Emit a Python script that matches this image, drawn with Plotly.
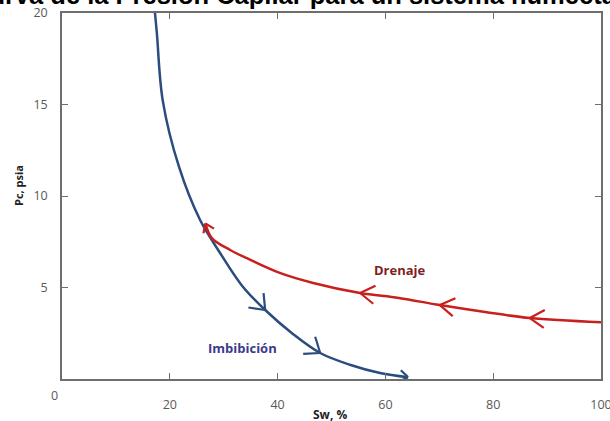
import numpy as np
import plotly.graph_objects as go

# Imbibition curve (Sw %, Pc psia)
sw_imb = [17.25, 17.6, 18.7, 21.7, 25.6, 29.3, 33.4, 37.7, 42.9, 47.9, 53.4, 59.0, 64.2]
pc_imb = [20.0, 18.9, 15.2, 11.6, 8.7, 6.9, 5.1, 3.77, 2.45, 1.42, 0.78, 0.33, 0.1]
imb_arrow_idx = [7, 9]          # direction chevrons along the curve
imb_end_idx = 12                # arrow head at the end

# Drainage curve (Sw %, Pc psia)
sw_dre = [26.6, 27.8, 31.2, 34.3, 40.4, 46.6, 55.3, 62.5, 70.1, 78.5, 86.8, 100.0]
pc_dre = [8.5, 7.7, 7.05, 6.6, 5.8, 5.25, 4.7, 4.43, 4.04, 3.66, 3.33, 3.1]
dre_arrow_idx = [6, 8, 10]
dre_start_idx = 0

x_ticks = [20, 40, 60, 80, 100]
y_ticks = [5, 10, 15, 20]
origin_label = "0"

BLUE = "#2b4c7e"
RED = "#c8201e"
AXIS = "#6e6e6e"
TICKTXT = "#595959"

W, H = 610, 421
M = dict(l=62, r=9, t=13, b=42)
X_RANGE = [0, 100]
Y_RANGE = [0, 20]
PW = W - M["l"] - M["r"]
PH = H - M["t"] - M["b"]
sx = PW / (X_RANGE[1] - X_RANGE[0])
sy = PH / (Y_RANGE[1] - Y_RANGE[0])


def chevron(xs, ys, i, j, length, half_angle):
    """Open arrow head at point i, pointing from point j towards point i."""
    tx, ty = xs[i], ys[i]
    dx = (xs[i] - xs[j]) * sx
    dy = -(ys[i] - ys[j]) * sy
    n = np.hypot(dx, dy)
    bx, by = -dx / n, -dy / n
    out_x, out_y = [], []
    for s in (1, -1):
        a = s * np.radians(half_angle)
        wx = bx * np.cos(a) - by * np.sin(a)
        wy = bx * np.sin(a) + by * np.cos(a)
        out_x += [tx + wx * length / sx, tx, None]
        out_y += [ty - wy * length / sy, ty, None]
    return out_x, out_y


fig = go.Figure()

fig.add_trace(go.Scatter(x=sw_imb, y=pc_imb, mode="lines",
                         line=dict(color=BLUE, width=2.5, shape="spline", smoothing=1.0),
                         hoverinfo="skip"))
fig.add_trace(go.Scatter(x=sw_dre, y=pc_dre, mode="lines",
                         line=dict(color=RED, width=2.5, shape="spline", smoothing=1.0),
                         hoverinfo="skip"))

# arrow heads for the imbibition curve (travel towards higher Sw)
ax, ay = [], []
for i in imb_arrow_idx:
    cx, cy = chevron(sw_imb, pc_imb, i, i - 1, 17, 38)
    ax += cx
    ay += cy
cx, cy = chevron(sw_imb, pc_imb, imb_end_idx, imb_end_idx - 1, 10, 35)
ax += cx
ay += cy
fig.add_trace(go.Scatter(x=ax, y=ay, mode="lines",
                         line=dict(color=BLUE, width=2.2), hoverinfo="skip"))

# arrow heads for the drainage curve (travel towards lower Sw)
rx, ry = [], []
for i in dre_arrow_idx:
    cx, cy = chevron(sw_dre, pc_dre, i, i + 1, 17, 32)
    rx += cx
    ry += cy
cx, cy = chevron(sw_dre, pc_dre, dre_start_idx, dre_start_idx + 1, 10, 35)
rx += cx
ry += cy
fig.add_trace(go.Scatter(x=rx, y=ry, mode="lines",
                         line=dict(color=RED, width=2.2), hoverinfo="skip"))

axis_common = dict(showline=True, linecolor=AXIS, linewidth=1.5, mirror="ticks",
                   ticks="inside", ticklen=6, tickwidth=1.3, tickcolor=AXIS,
                   showgrid=False, zeroline=False, automargin=False,
                   ticklabeloverflow="allow",
                   tickfont=dict(family="Open Sans", size=12.5, color=TICKTXT))

fig.update_xaxes(range=X_RANGE, tickvals=x_ticks, ticktext=[str(v) for v in x_ticks],
                 ticklabelstandoff=13, **axis_common)
fig.update_yaxes(range=Y_RANGE, tickvals=y_ticks, ticktext=[str(v) for v in y_ticks],
                 ticklabelstandoff=10, **axis_common)

annotations = [
    dict(text="<b>Curva de la Presión Capilar para un sistema humectado por agua</b>",
         xref="paper", yref="paper", x=(-31 - M["l"]) / PW, y=1 + 2 / PH,
         xanchor="left", yanchor="bottom", showarrow=False,
         font=dict(family="Liberation Sans", size=25.5, color="#000000")),
    dict(text="<b>Imbibición</b>", x=33.5, y=1.7, xref="x", yref="y", showarrow=False,
         xanchor="center", yanchor="middle",
         font=dict(family="Open Sans", size=13, color="#3b3a8c")),
    dict(text="<b>Drenaje</b>", x=62.7, y=5.95, xref="x", yref="y", showarrow=False,
         xanchor="center", yanchor="middle",
         font=dict(family="Open Sans", size=13, color="#7f1f1f")),
    dict(text=origin_label, xref="paper", yref="paper",
         x=(54 - M["l"]) / PW, y=-(395 - (H - M["b"])) / PH,
         xanchor="center", yanchor="middle", showarrow=False,
         font=dict(family="Open Sans", size=12.5, color=TICKTXT)),
    dict(text="<b>Sw, %</b>", xref="paper", yref="paper", x=(330 - M["l"]) / PW,
         y=-(414 - (H - M["b"])) / PH, xanchor="center", yanchor="middle",
         showarrow=False, font=dict(family="Open Sans", size=12, color="#222222")),
    dict(text="<b>Pc, psia</b>", xref="paper", yref="paper", x=(18 - M["l"]) / PW,
         y=((H - M["b"]) - 186) / PH, xanchor="center", yanchor="middle",
         textangle=-90, showarrow=False,
         font=dict(family="Open Sans", size=11, color="#222222")),
]

fig.update_layout(width=W, height=H, autosize=False, margin=M,
                  paper_bgcolor="white", plot_bgcolor="white",
                  showlegend=False, annotations=annotations)

fig.write_html("out.html")
